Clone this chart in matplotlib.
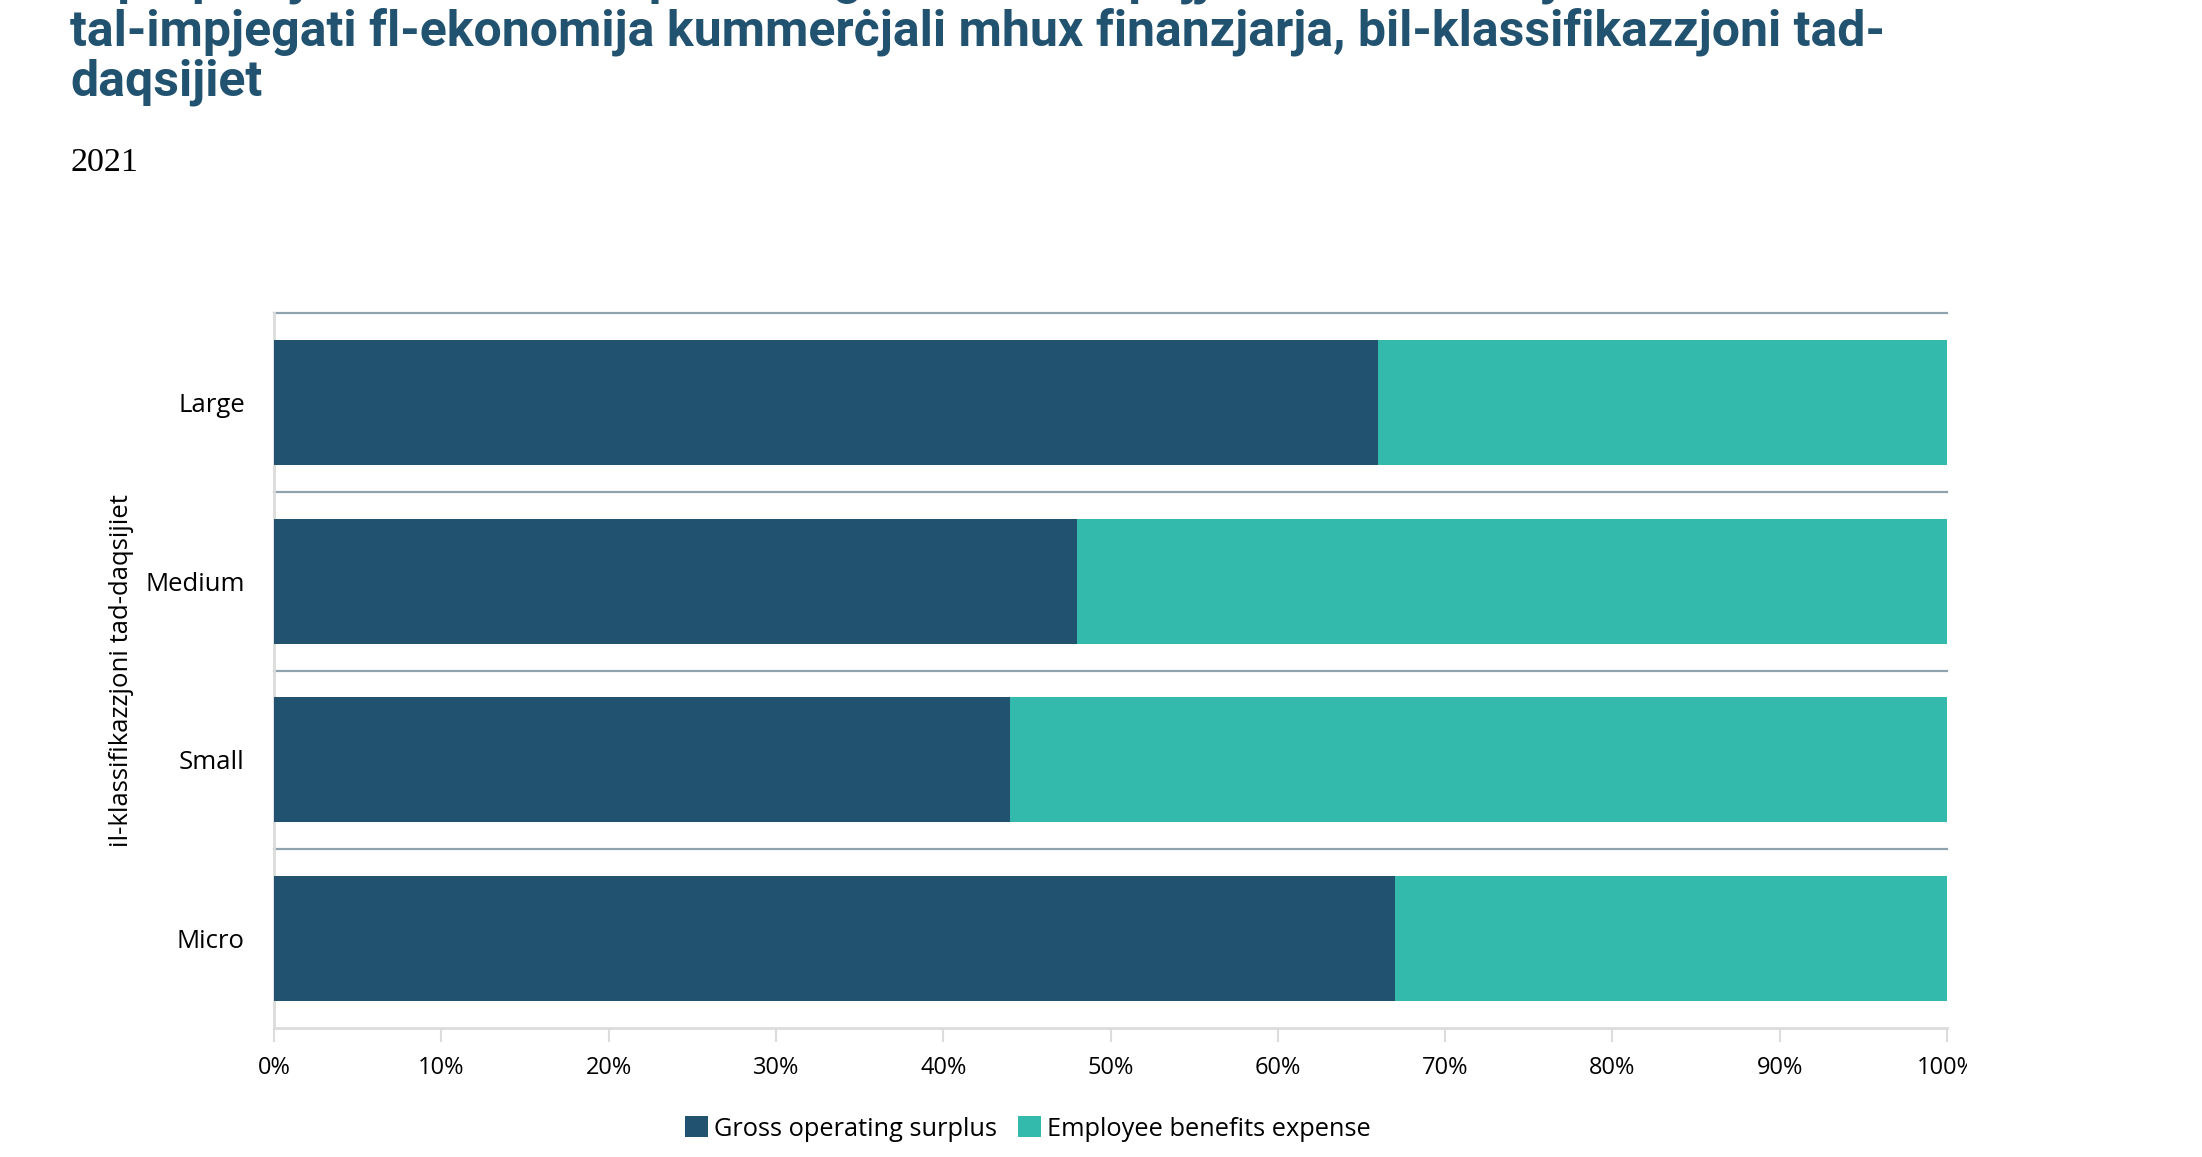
import numpy as np
import matplotlib

matplotlib.use('Agg')
import matplotlib.pyplot as plt
from matplotlib.transforms import Bbox, TransformedBbox

# dati
categories = ['Micro', 'Small', 'Medium', 'Large']
gross_surplus = [0.670, 0.440, 0.480, 0.660]
employee_benefits = [0.330, 0.560, 0.520, 0.340]
series_names = ['Gross operating surplus', 'Employee benefits expense']
x_ticks = [0, 0.1, 0.2, 0.3, 0.4, 0.5, 0.6, 0.7, 0.8, 0.9, 1.0]
x_tick_labels = ['0%', '10%', '20%', '30%', '40%', '50%', '60%', '70%', '80%', '90%', '100%']

title_lines = [
    'Il-proporzjon tal-eċċess operattiv gross u tal-ispejjeż tal-benefiċċji',
    'tal-impjegati fl-ekonomija kummerċjali mhux finanzjarja, bil-klassifikazzjoni tad-',
    'daqsijiet',
]
subtitle = '2021'
y_label = 'il-klassifikazzjoni tad-daqsijiet'

dark = '#215270'
teal = '#34BAAD'
grid_col = '#8FA3AE'
axis_col = '#DCDCDC'
tick_font = 'Open Sans'

W, H = 2202, 1157
fig = plt.figure(figsize=(W / 100, H / 100), dpi=100)
ax = fig.add_axes([274 / W, 1 - 1028 / H, (1947 - 274) / W, (1028 - 313) / H])

y = np.arange(len(categories))
ax.barh(y, gross_surplus, height=0.70, color=dark, label=series_names[0], zorder=3)
ax.barh(y, employee_benefits, left=gross_surplus, height=0.70, color=teal,
        label=series_names[1], zorder=3)

ax.set_xlim(0, 1)
ax.set_ylim(-0.5, len(categories) - 0.5)

ax.set_yticks(y)
ax.set_yticklabels(categories, fontsize=18.5, fontfamily=tick_font)
ax.tick_params(axis='y', which='both', length=0, pad=21)
# separator lines between the categories (and on top)
for yy in np.arange(len(categories)) + 0.5:
    ax.axhline(yy, color=grid_col, linewidth=1.6, zorder=1, clip_on=False)

ax.set_xticks(x_ticks)
ax.set_xticklabels(x_tick_labels, fontsize=17, fontfamily=tick_font)
ax.tick_params(axis='x', length=10, width=1.5, color=axis_col, pad=10)

for s in ['top', 'right']:
    ax.spines[s].set_visible(False)
for s in ['left', 'bottom']:
    ax.spines[s].set_color(axis_col)
    ax.spines[s].set_linewidth(2)

# 100% label is cut off at the right edge like in the original
clip = TransformedBbox(Bbox([[0, 0], [1967 / W, 1]]), fig.transFigure)
for lab in ax.get_xticklabels():
    lab.set_clip_box(clip)
    lab.set_clip_on(True)

ax.set_ylabel(y_label, fontsize=18.5, fontfamily=tick_font, labelpad=8)

# titolu
for i, line in enumerate(title_lines):
    fig.text(70 / W, 1 - (-6 + 51 * i) / H, line, fontsize=36, fontfamily='Roboto',
             fontweight='bold', color=dark, va='baseline', ha='left')
fig.text(70 / W, 1 - 163 / H, subtitle, fontsize=24.5, fontfamily='Liberation Serif',
         color='black', va='center', ha='left')

leg = fig.legend(loc='center', bbox_to_anchor=(1028 / W, 1 - 1129 / H), ncol=2,
                 frameon=False, prop={'family': tick_font, 'size': 18.3},
                 handlelength=0.9, handleheight=0.9, handletextpad=0.25, columnspacing=0.8)

fig.savefig('out.png', dpi=100)
